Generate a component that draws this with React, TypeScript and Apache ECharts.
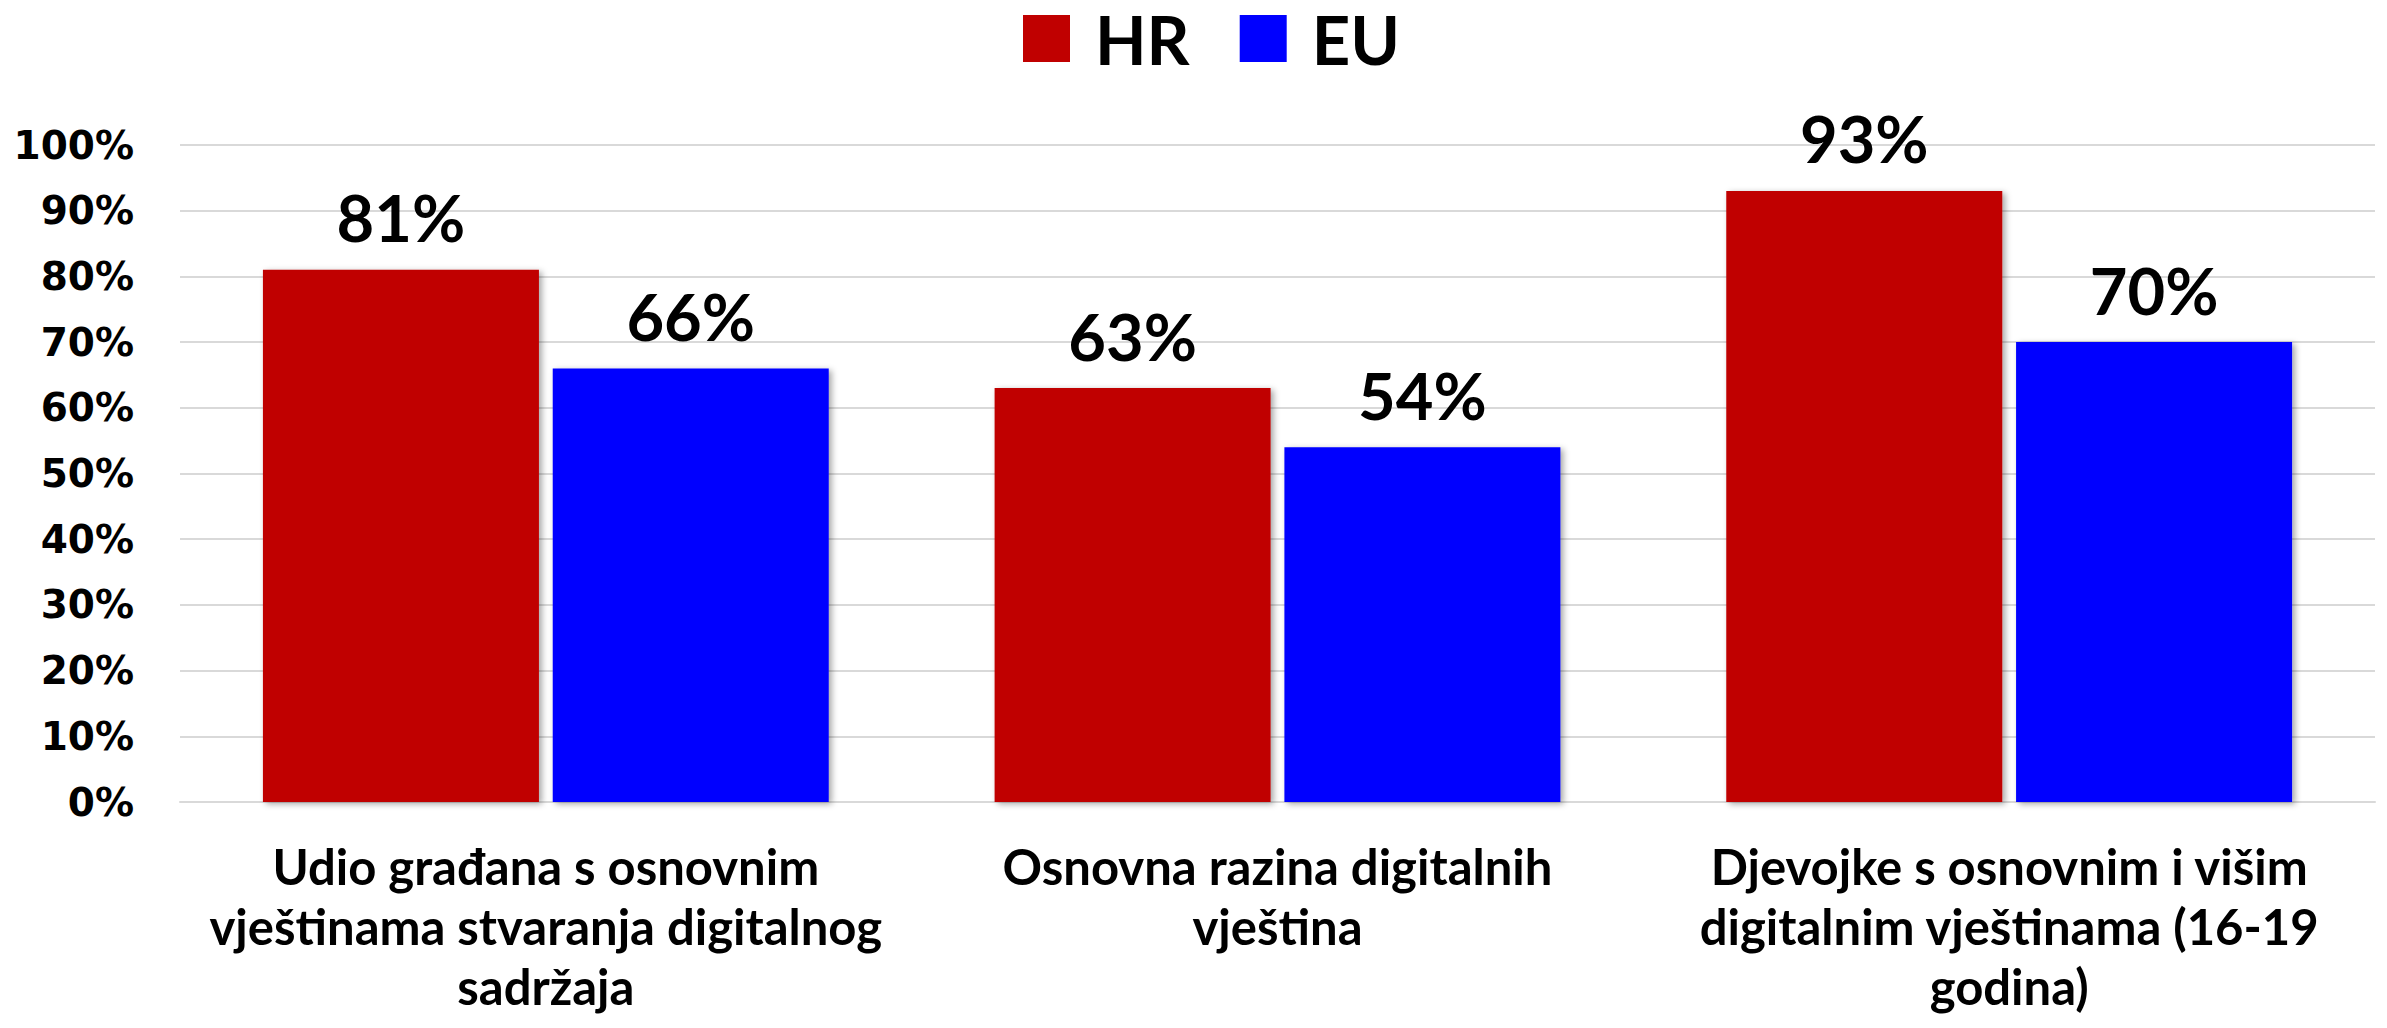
import React, { useEffect, useRef } from "react";
import * as echarts from "echarts";

const categories = [
  "Udio građana s osnovnim\nvještinama stvaranja digitalnog\nsadržaja",
  "Osnovna razina digitalnih\nvještina",
  "Djevojke s osnovnim i višim\ndigitalnim vještinama (16-19\ngodina)",
];
const hrValues = [81, 63, 93];
const euValues = [66, 54, 70];
const seriesNames = ["HR", "EU"];
const colors = ["#C00000", "#0000FF"];

export default function App() {
  const ref = useRef<HTMLDivElement>(null);
  useEffect(() => {
    if (!ref.current) return;
    const chart = echarts.init(ref.current, null, { renderer: "svg" });
    const shadow = {
      shadowColor: "rgba(0,0,0,0.35)",
      shadowBlur: 6,
      shadowOffsetX: 3,
      shadowOffsetY: 2,
    };
    const label = {
      show: true,
      position: "top" as const,
      distance: 20,
      formatter: "{c}%",
      fontFamily: "Lato",
      fontWeight: "bold" as const,
      fontSize: 65,
      color: "#000",
    };
    chart.setOption({
      animation: false,
      backgroundColor: "#fff",
      legend: {
        left: 1018,
        top: 0,
        itemWidth: 47,
        itemHeight: 47,
        itemGap: 50,
        icon: "rect",
        textStyle: {
          fontFamily: "Lato",
          fontWeight: "bold",
          fontSize: 67,
          color: "#000",
          padding: [0, 0, 0, 20],
        },
        data: seriesNames,
      },
      grid: { left: 180, right: 12, top: 145, bottom: 226, containLabel: false },
      xAxis: {
        type: "category",
        data: categories,
        axisTick: { show: false },
        axisLine: { show: true, lineStyle: { color: "#d9d9d9", width: 2 } },
        axisLabel: {
          interval: 0,
          margin: 34,
          fontFamily: "Lato",
          fontWeight: "bold",
          fontSize: 49,
          lineHeight: 60,
          color: "#000",
          align: "center",
        },
      },
      yAxis: {
        type: "value",
        min: 0,
        max: 100,
        interval: 10,
        axisLine: { show: false },
        axisTick: { show: false },
        splitLine: { lineStyle: { color: "#d9d9d9", width: 2 } },
        axisLabel: {
          formatter: "{value}%",
          margin: 46,
          fontFamily: "DejaVu Sans",
          fontWeight: "bold",
          fontSize: 39,
          color: "#000",
        },
      },
      series: [
        {
          name: seriesNames[0],
          type: "bar",
          data: hrValues,
          barWidth: 276,
          barGap: "5%",
          itemStyle: { color: colors[0], ...shadow },
          label,
        },
        {
          name: seriesNames[1],
          type: "bar",
          data: euValues,
          barWidth: 276,
          barGap: "5%",
          itemStyle: { color: colors[1], ...shadow },
          label,
        },
      ],
    });
    return () => chart.dispose();
  }, []);
  return (
    <div
      ref={ref}
      style={{ position: "fixed", left: 0, top: 0, width: 2387, height: 1028 }}
    />
  );
}
